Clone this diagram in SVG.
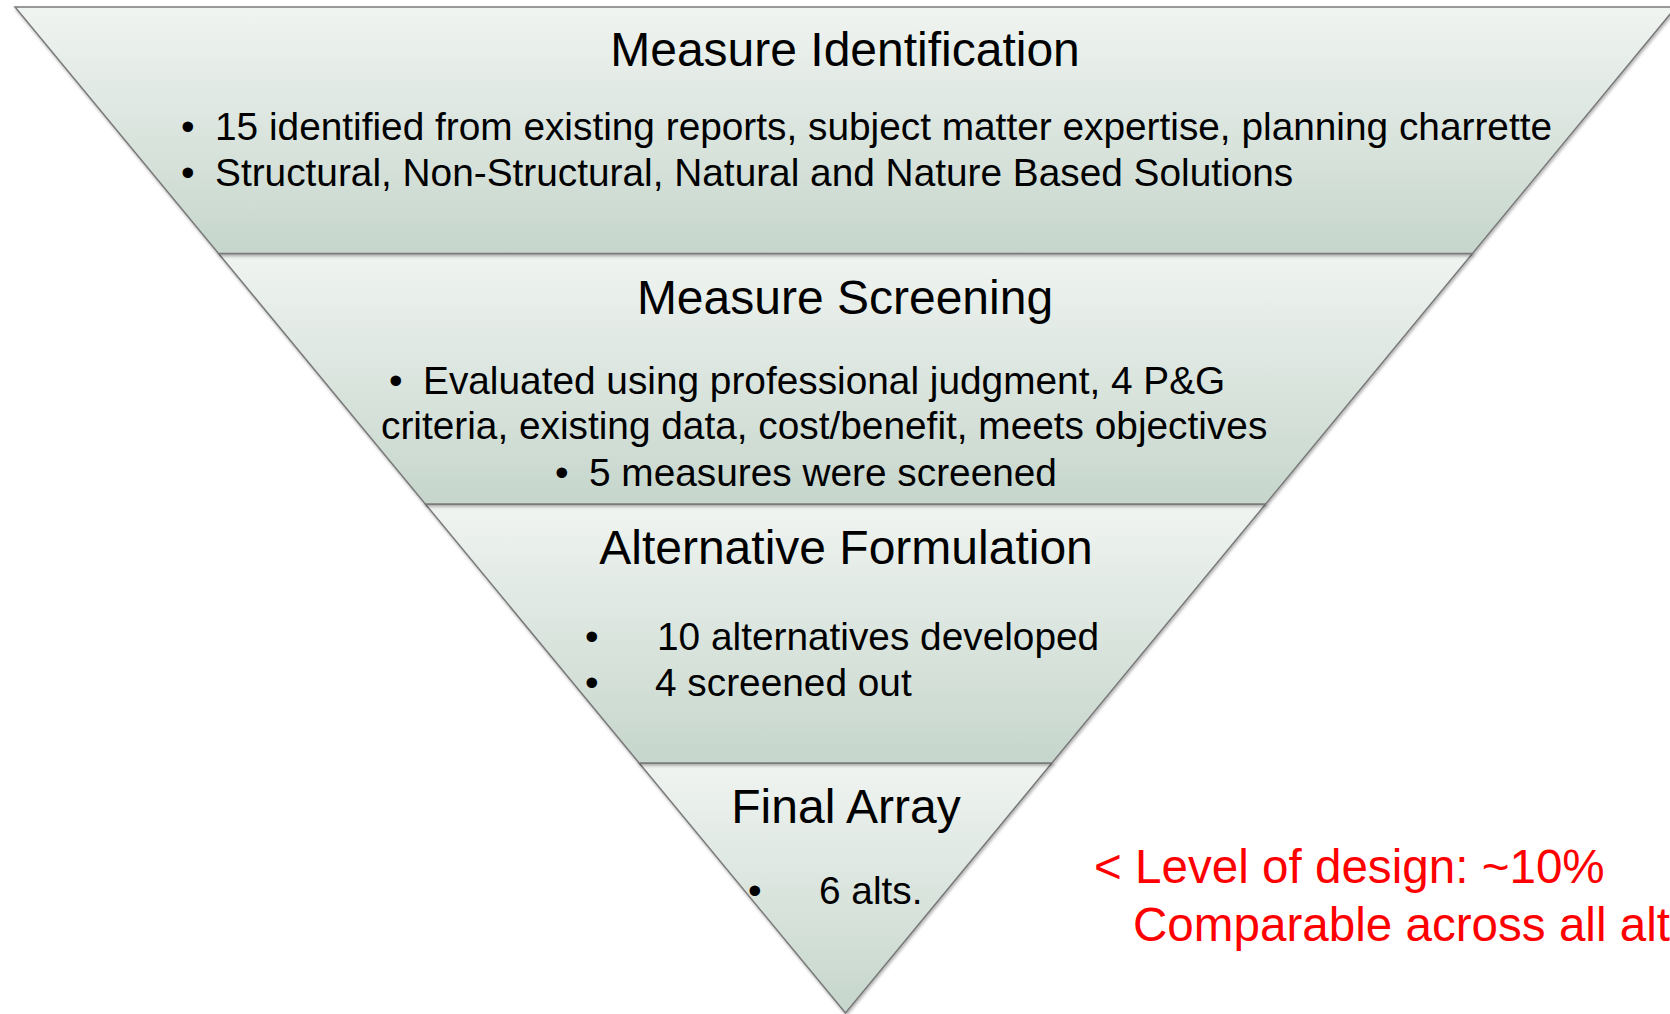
<svg xmlns="http://www.w3.org/2000/svg" width="1670" height="1014" viewBox="0 0 1670 1014">
<style>
.band{stroke:#7a7a7a;stroke-width:1.5;fill:url(#g);filter:url(#sh)}
.t{font-family:"Liberation Sans",Arial,sans-serif;fill:#000}
.h{font-size:48px;text-anchor:middle}
.b{font-size:38.8px}
.red{font-family:"Liberation Sans",Arial,sans-serif;font-size:47.6px;fill:#ff0000}
</style>
<defs>
<linearGradient id="g" x1="0" y1="0" x2="0" y2="1">
<stop offset="0" stop-color="#f0f4f1"/>
<stop offset="1" stop-color="#c6d6cc"/>
</linearGradient>
<filter id="sh" x="-5%" y="-5%" width="110%" height="115%">
<feDropShadow dx="1" dy="2" stdDeviation="1.5" flood-color="#000" flood-opacity="0.3"/>
</filter>
</defs>
<rect width="1670" height="1014" fill="#ffffff"/>
<g id="final-array">
<polygon class="band" points="639.1,763 1051.9,763 845.5,1013"/>
<text class="t h" x="846" y="823">Final Array</text>
<text class="t b" x="748" y="904">•</text>
<text class="t b" x="819" y="904">6 alts.</text>
</g>
<g id="alternative-formulation">
<polygon class="band" points="425.3,504 1265.7,504 1051.9,763 639.1,763"/>
<text class="t h" x="846" y="564">Alternative Formulation</text>
<text class="t b" x="585" y="650">•</text>
<text class="t b" x="657" y="650">10 alternatives developed</text>
<text class="t b" x="585" y="696">•</text>
<text class="t b" x="655" y="696">4 screened out</text>
</g>
<g id="measure-screening">
<polygon class="band" points="218.5,253.5 1472.5,253.5 1265.7,504 425.3,504"/>
<text class="t h" x="845" y="314">Measure Screening</text>
<text class="t b" x="389" y="394">•</text>
<text class="t b" x="423" y="394">Evaluated using professional judgment, 4 P&amp;G</text>
<text class="t b" x="381" y="439">criteria, existing data, cost/benefit, meets objectives</text>
<text class="t b" x="555" y="486">•</text>
<text class="t b" x="589" y="486">5 measures were screened</text>
</g>
<g id="measure-identification">
<polygon class="band" points="15,7 1676,7 1472.5,253.5 218.5,253.5"/>
<text class="t h" x="845" y="66">Measure Identification</text>
<text class="t b" x="181" y="140">•</text>
<text class="t b" x="215" y="140">15 identified from existing reports, subject matter expertise, planning charrette</text>
<text class="t b" x="181" y="186">•</text>
<text class="t b" x="215" y="186">Structural, Non-Structural, Natural and Nature Based Solutions</text>
</g>
<g id="level-note">
<text class="red" x="1094" y="883">&lt; Level of design: ~10%</text>
<text class="red" x="1133" y="941">Comparable across all alts</text>
</g>
<g id="connectors"/>
</svg>
